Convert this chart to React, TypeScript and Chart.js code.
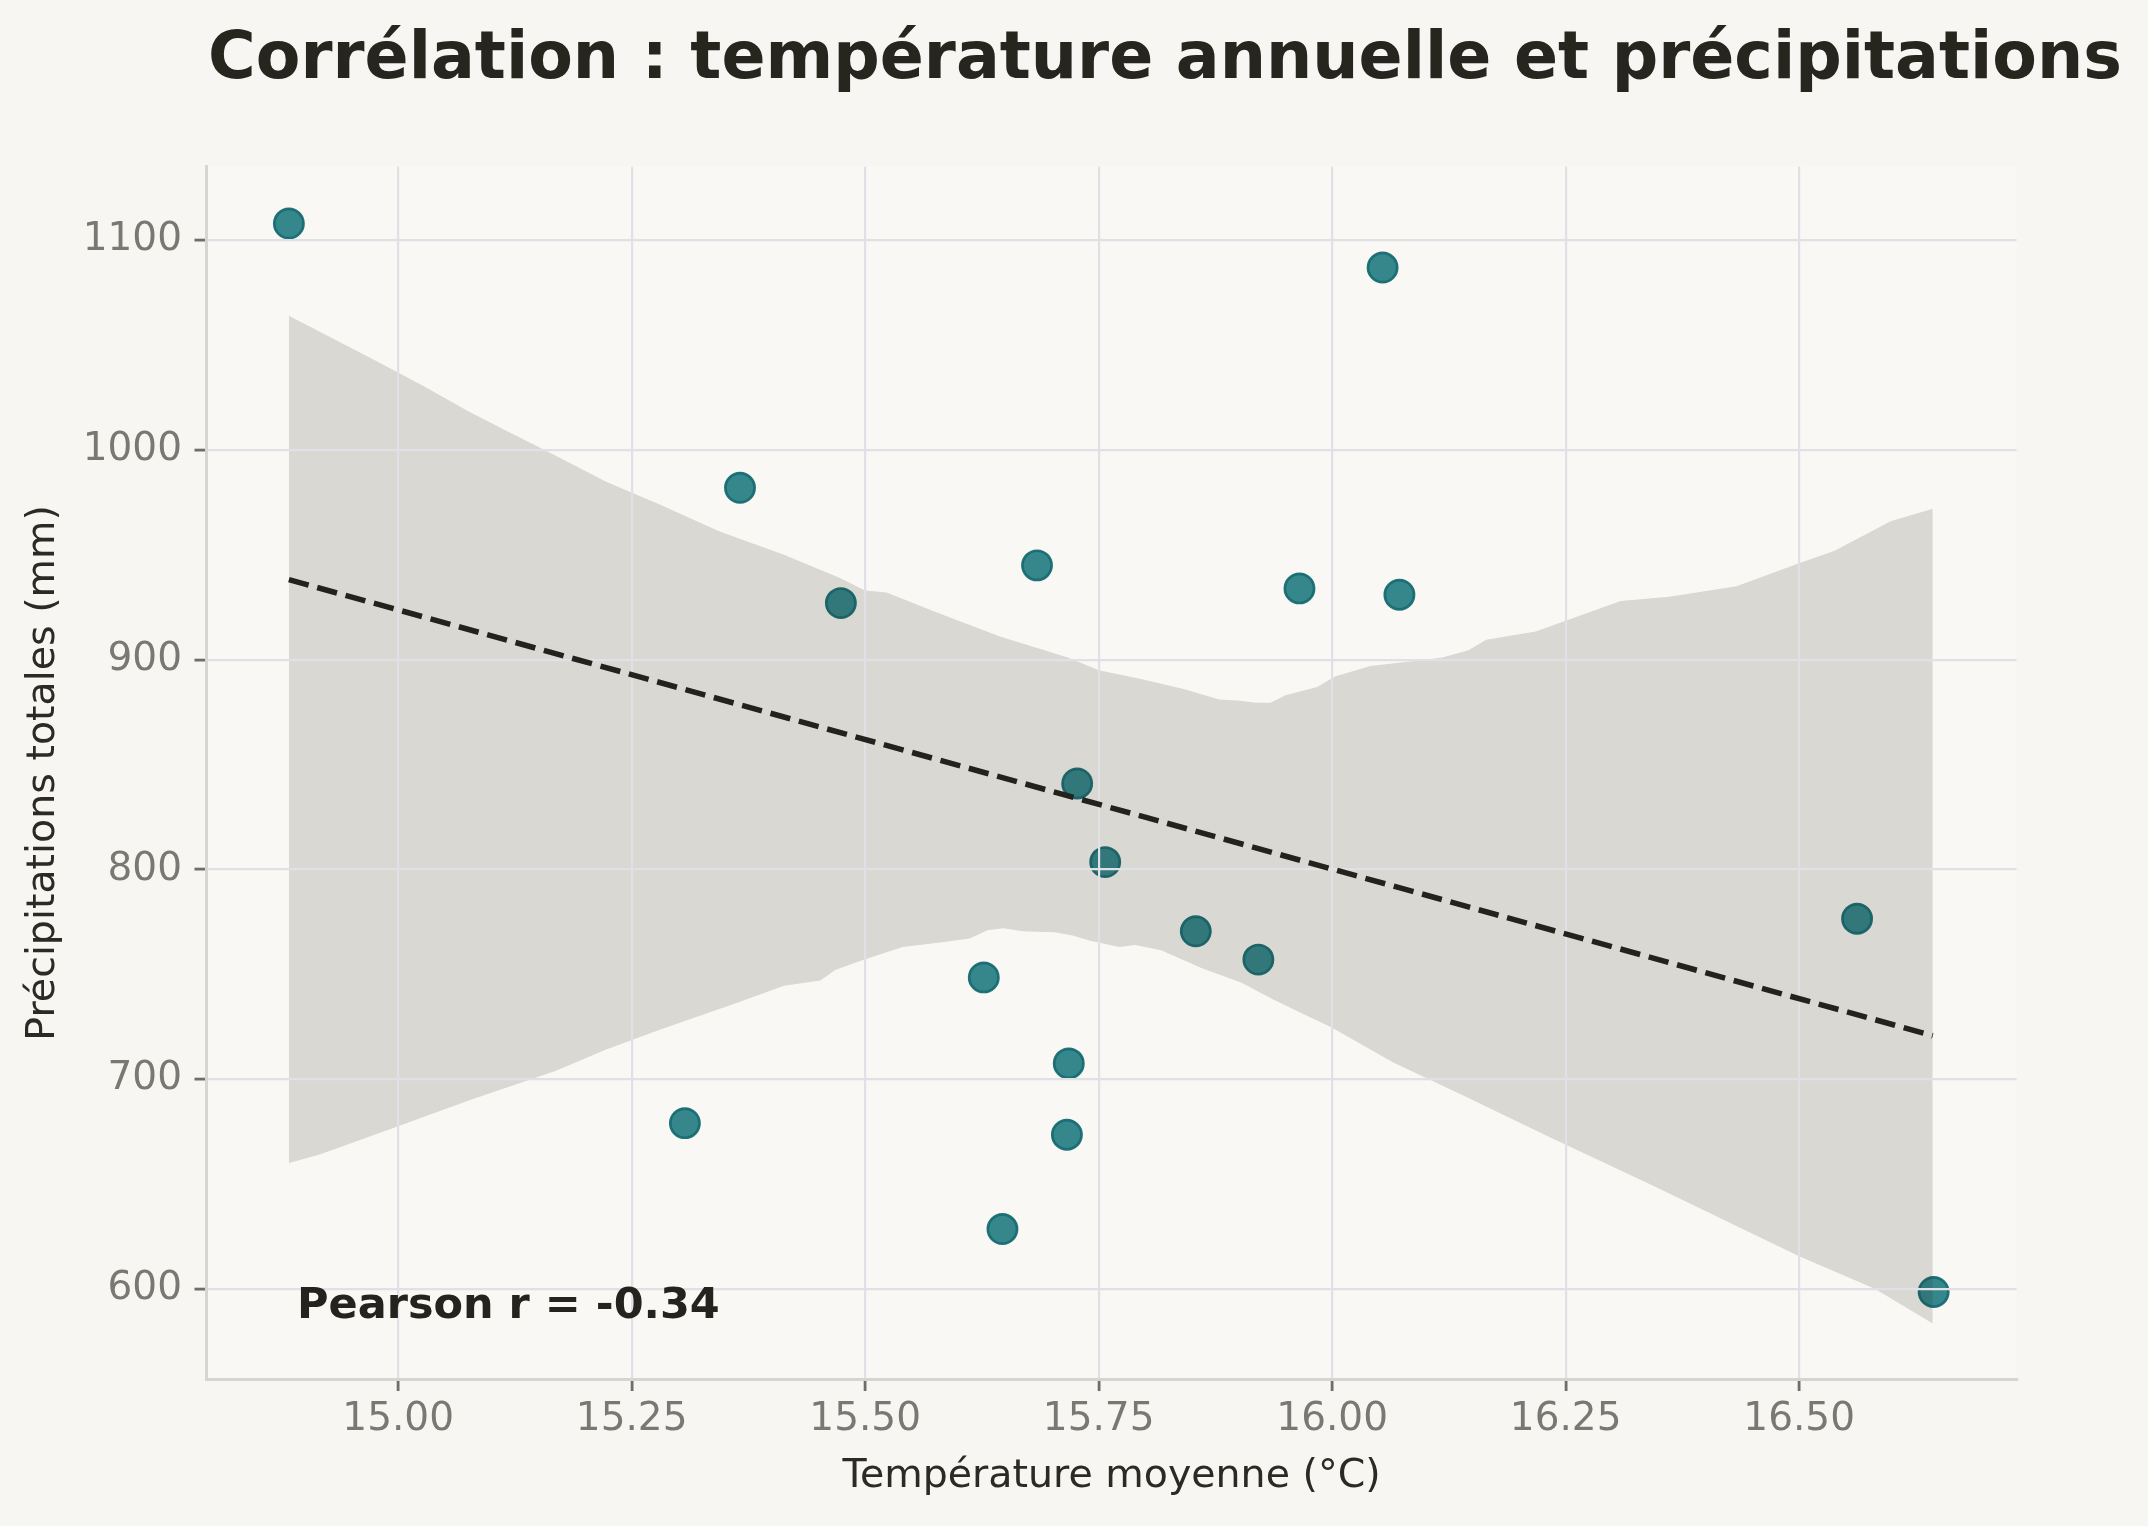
import { useEffect, useRef } from "react";
import { Chart, registerables } from "chart.js";

Chart.register(...registerables);

// scatter points (température moyenne °C, précipitations mm)
const tempMoy = [14.883, 15.366, 15.474, 15.307, 15.684, 15.627, 15.718, 15.716, 15.647, 15.727, 15.757, 15.854, 15.921, 15.965, 16.054, 16.072, 16.562, 16.644];
const precipTot = [1108, 982, 927, 679, 945, 748.5, 707.5, 673.5, 628.5, 841, 803.5, 770.5, 757, 934, 1087, 931, 776.5, 598.5];

// regression line end points
const fitX = [14.883, 16.643];
const fitY = [938.2, 720.7];

// confidence band (upper and lower edges)
const ciUpperX = [14.883, 14.974, 15.027, 15.077, 15.13, 15.161, 15.222, 15.28, 15.325, 15.345, 15.413, 15.473, 15.5, 15.523, 15.574, 15.645, 15.717, 15.75, 15.793, 15.841, 15.879, 15.899, 15.918, 15.934, 15.95, 15.984, 16.003, 16.041, 16.099, 16.118, 16.146, 16.165, 16.218, 16.309, 16.361, 16.433, 16.5, 16.538, 16.598, 16.643];
const ciUpperY = [1064, 1043, 1030.5, 1018, 1006, 999, 985, 974, 965, 961, 950, 939, 933, 932, 923, 911, 901, 895, 891, 886, 881, 880.5, 879.5, 879.5, 883, 887, 892, 897, 900, 901, 904.5, 909.5, 913.5, 928, 930, 935, 946, 952, 966, 972];
const ciLowerX = [14.883, 14.916, 14.997, 15.077, 15.169, 15.222, 15.283, 15.36, 15.413, 15.452, 15.468, 15.492, 15.54, 15.578, 15.612, 15.631, 15.648, 15.669, 15.703, 15.722, 15.741, 15.772, 15.789, 15.817, 15.86, 15.903, 15.937, 15.969, 15.998, 16.065, 16.146, 16.232, 16.342, 16.5, 16.581, 16.643];
const ciLowerY = [660, 664, 677, 690, 704, 714, 724, 736, 744.5, 747, 752, 756, 763, 765, 767, 771, 772, 770.5, 770, 768.5, 766, 763, 764, 761.5, 753, 746, 738, 731, 725, 708, 691, 672.5, 649.5, 615.5, 600, 583.5];

const pearsonR = -0.34;
const titleText = "Corrélation : température annuelle et précipitations";

const FONT = '"DejaVu Sans", sans-serif';
const FIT_INDEX = 3;

const toXY = (xs: number[], ys: number[]) => xs.map((x, i) => ({ x, y: ys[i] }));

const decorPlugin = {
  id: "decor",
  beforeDraw(chart: any) {
    const { ctx, chartArea: a } = chart;
    ctx.save();
    ctx.fillStyle = "#f7f6f2";
    ctx.fillRect(0, 0, chart.width, chart.height);
    ctx.fillStyle = "#f9f8f4";
    ctx.fillRect(a.left, a.top, a.right - a.left, a.bottom - a.top);
    ctx.restore();
  },
  // the dashed fit line goes above the grid, so it is drawn in afterDraw
  beforeDatasetDraw(_chart: any, args: any) {
    if (args.index === FIT_INDEX) return false;
  },
  afterDraw(chart: any) {
    const { ctx, chartArea: a } = chart;
    ctx.save();
    ctx.beginPath();
    ctx.rect(a.left, a.top, a.right - a.left, a.bottom - a.top);
    ctx.clip();
    chart.getDatasetMeta(FIT_INDEX).controller.draw();
    ctx.restore();

    ctx.save();
    ctx.fillStyle = "#24231d";
    ctx.font = `bold 43px ${FONT}`;
    ctx.textAlign = "left";
    ctx.textBaseline = "alphabetic";
    const h = a.bottom - a.top;
    ctx.fillText(`Pearson r = ${pearsonR.toFixed(2)}`, a.left + 0.05 * (a.right - a.left), a.bottom - 0.05 * h);

    ctx.fillStyle = "#26251e";
    ctx.font = `bold 65px ${FONT}`;
    ctx.textAlign = "center";
    ctx.fillText(titleText, 1165, 78);
    ctx.restore();
  },
};

export default function App() {
  const canvasRef = useRef<HTMLCanvasElement | null>(null);

  useEffect(() => {
    document.body.style.margin = "0";
    document.body.style.background = "#f7f6f2";
    if (!canvasRef.current) return;

    const chart = new Chart(canvasRef.current, {
      type: "scatter",
      data: {
        datasets: [
          {
            type: "scatter",
            data: toXY(tempMoy, precipTot),
            backgroundColor: "rgba(31,122,128,0.9)",
            borderColor: "rgba(22,108,114,0.95)",
            borderWidth: 2.7,
            pointRadius: 14.6,
            pointHoverRadius: 14.6,
            order: 3,
          },
          {
            type: "line",
            data: toXY(ciUpperX, ciUpperY),
            borderColor: "rgba(0,0,0,0)",
            borderWidth: 1,
            pointRadius: 0,
            tension: 0,
            fill: false,
            order: 2,
          },
          {
            type: "line",
            data: toXY(ciLowerX, ciLowerY),
            borderColor: "rgba(0,0,0,0)",
            borderWidth: 1,
            backgroundColor: "rgba(36,34,28,0.15)",
            pointRadius: 0,
            tension: 0,
            fill: "-1",
            order: 2,
          },
          {
            type: "line",
            data: toXY(fitX, fitY),
            borderColor: "#24221c",
            borderWidth: 5.56,
            borderDash: [20.5, 8.9],
            borderCapStyle: "butt",
            pointRadius: 0,
            tension: 0,
            fill: false,
            order: 1,
          },
        ],
      } as any,
      options: {
        animation: false,
        responsive: true,
        maintainAspectRatio: false,
        events: [],
        layout: { padding: { left: 0, top: 166.7, right: 131.4, bottom: 0 } },
        plugins: {
          legend: { display: false },
          tooltip: { enabled: false },
        },
        scales: {
          x: {
            type: "linear",
            min: 14.7948,
            max: 16.7328,
            afterFit: (s: any) => {
              s.height = 147;
            },
            grid: {
              z: 1,
              color: "#dfe1e6",
              lineWidth: 2.2,
              tickLength: 12,
              tickColor: "#6e6e6e",
              tickWidth: 2.8,
            },
            border: { z: 1, color: "#d6d5d1", width: 3 },
            ticks: {
              stepSize: 0.25,
              includeBounds: false,
              padding: 5.6,
              color: "#7a7873",
              maxRotation: 0,
              autoSkip: false,
              font: { family: FONT, size: 39 },
              callback: (v: any) => Number(v).toFixed(2),
            },
            title: {
              display: true,
              text: "Température moyenne (°C)",
              color: "#2b2a24",
              font: { family: FONT, size: 39.5 },
              padding: { top: 0, bottom: 25.8 },
            },
          },
          y: {
            type: "linear",
            min: 557,
            max: 1135.1,
            afterFit: (s: any) => {
              s.width = 206.5;
            },
            grid: {
              z: 1,
              color: "#dfe1e6",
              lineWidth: 2.2,
              tickLength: 12,
              tickColor: "#6e6e6e",
              tickWidth: 2.8,
            },
            border: { z: 1, color: "#d6d5d1", width: 3 },
            ticks: {
              stepSize: 100,
              includeBounds: false,
              padding: 12.5,
              color: "#7a7873",
              autoSkip: false,
              font: { family: FONT, size: 39 },
              callback: (v: any) => String(Math.round(Number(v))),
            },
            title: {
              display: true,
              text: "Précipitations totales (mm)",
              color: "#2b2a24",
              font: { family: FONT, size: 39.5 },
              padding: { top: 20.4, bottom: 0 },
            },
          },
        },
      } as any,
      plugins: [decorPlugin],
    });

    return () => {
      chart.destroy();
    };
  }, []);

  return (
    <div style={{ position: "relative", width: 2148, height: 1526 }}>
      <canvas ref={canvasRef}></canvas>
    </div>
  );
}
